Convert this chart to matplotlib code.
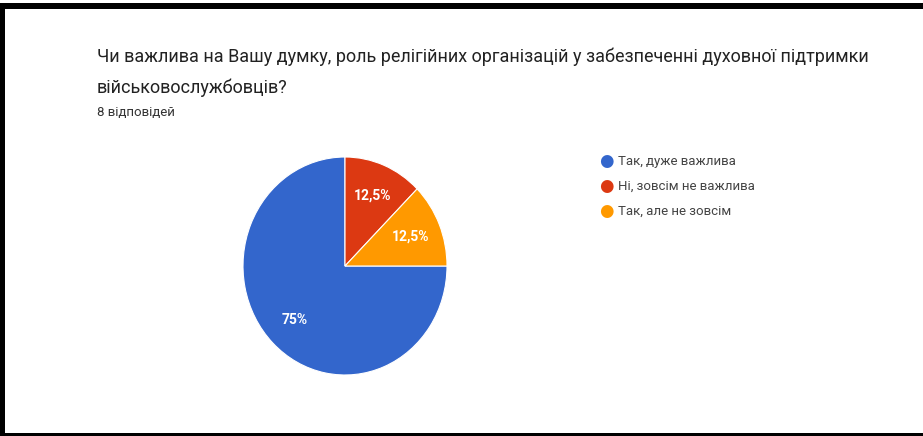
import matplotlib.pyplot as plt
from matplotlib.patches import Rectangle

plt.rcParams['font.family'] = ['Roboto', 'DejaVu Sans']

title_lines = ["Чи важлива на Вашу думку, роль релігійних організацій у забезпеченні духовної підтримки",
               "військовослужбовців?"]
subtitle = "8 відповідей"
labels = ["Так, дуже важлива", "Ні, зовсім не важлива", "Так, але не зовсім"]
values = [6, 1, 1]
colors = ["#3366cc", "#dc3912", "#ff9900"]

W, H = 923, 436
fig = plt.figure(figsize=(W / 100, H / 100), dpi=100)
fig.patch.set_facecolor("white")

# pie axes, slightly squashed like the screenshot
cx, cy, rx, ry = 345, 266, 102, 109
ax = fig.add_axes([(cx - rx) / W, (H - cy - ry) / H, 2 * rx / W, 2 * ry / H])

def pct(p):
    s = f"{p:.1f}".rstrip("0").rstrip(".")
    return s.replace(".", ",") + "%"

wedges, texts, autotexts = ax.pie(values, colors=colors, startangle=0, counterclock=False,
                                  autopct=pct, pctdistance=0.7, radius=1,
                                  wedgeprops=dict(edgecolor="white", linewidth=0.8),
                                  textprops=dict(color="white", fontsize=10, fontweight="bold"))
ax.set_aspect("auto")
ax.set_xlim(-1, 1)
ax.set_ylim(-1, 1)

for i, line in enumerate(title_lines):
    fig.text(97 / W, 1 - (57 + i * 31) / H, line, fontsize=13, color="#222222", va="center")
fig.text(97 / W, 1 - 112 / H, subtitle, fontsize=9.5, color="#333333", va="center")

# legend drawn by hand to match placement
for i, (lab, col) in enumerate(zip(labels, colors)):
    y = 1 - (162 + i * 24.5) / H
    fig.text(606 / W, y, "●", color=col, fontsize=12, ha="center", va="center")
    fig.text(618 / W, y, lab, color="#444444", fontsize=9.5, va="center")

# black frame of the screenshot
fig.add_artist(Rectangle((0, 1 - 9 / H), 1, 6 / H, transform=fig.transFigure,
                         color="black", lw=0))
fig.add_artist(Rectangle((0, 0), 5 / W, 1 - 3 / H, transform=fig.transFigure,
                         color="black", lw=0))
fig.add_artist(Rectangle((0, 0), 1, 3 / H, transform=fig.transFigure,
                         color="black", lw=0))

fig.savefig("out.png", dpi=100)
